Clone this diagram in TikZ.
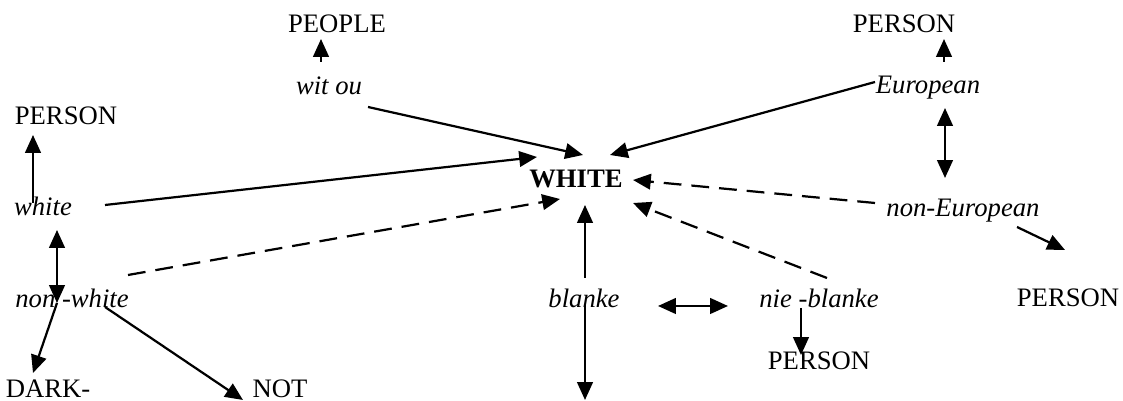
\documentclass[tikz,border=0pt]{standalone}
\usepackage{fontspec}
\setmainfont{Liberation Serif}
\usetikzlibrary{arrows.meta}
\begin{document}
\begin{tikzpicture}[x=0.45pt,y=-0.45pt,
  lbl/.style={inner sep=0pt,anchor=base,font=\fontsize{12}{14}\selectfont},
  term/.style={lbl,font=\fontsize{12}{14}\selectfont\itshape},
  conn/.style={line width=1pt,-{Triangle[length=8pt,width=7pt]}},
  bothconn/.style={line width=1pt,{Triangle[length=8pt,width=7pt]}-{Triangle[length=8pt,width=7pt]}},
  dashconn/.style={conn,dash pattern=on 8pt off 4.5pt}]
\useasboundingbox (0,0) rectangle (1123,401);
% nodes
\node[lbl] (people) at (337,33) {PEOPLE};
\node[term] (witou) at (329,95) {wit ou};
\node[lbl] (persontop) at (904,33) {PERSON};
\node[term] (european) at (928,94) {European};
\node[lbl] (personleft) at (66,125) {PERSON};
\node[term] (white) at (43,216) {white};
\node[lbl,font=\fontsize{12}{14}\selectfont\bfseries] (WHITE) at (576,188) {WHITE};
\node[term] (noneuro) at (963,217) {non-European};
\node[term] (nonwhite) at (72,308) {non -white};
\node[term] (blanke) at (584,308) {blanke};
\node[term] (nieblanke) at (819,308) {nie -blanke};
\node[lbl] (personright) at (1068,307) {PERSON};
\node[lbl] (personbottom) at (819,370) {PERSON};
\node[lbl] (dark) at (48,398) {DARK-};
\node[lbl] (not) at (280,398) {NOT};
\coordinate (blankeend) at (585,400);
% connectors
\draw[conn] ([shift={(-8,-33)}]witou.base) -- ([shift={(-16,6)}]people.base);
\draw[conn] ([shift={(39,12)}]witou.base) -- ([shift={(7,-33)}]WHITE.base);
\draw[conn] ([shift={(62,-11)}]white.base) -- ([shift={(-39,-31)}]WHITE.base);
\draw[conn] ([shift={(-53,-12)}]european.base) -- ([shift={(34,-33)}]WHITE.base);
\draw[conn] ([shift={(16,-32)}]european.base) -- ([shift={(40,6)}]persontop.base);
\draw[bothconn] ([shift={(17,14)}]european.base) -- ([shift={(-18,-39)}]noneuro.base);
\draw[conn] ([shift={(54,10)}]noneuro.base) -- ([shift={(-3,-57)}]personright.base);
\draw[dashconn] ([shift={(-88,-14)}]noneuro.base) -- ([shift={(57,-8)}]WHITE.base);
\draw[dashconn] ([shift={(8,-30)}]nieblanke.base) -- ([shift={(57,15)}]WHITE.base);
\draw[conn] ([shift={(1,-30)}]blanke.base) -- ([shift={(9,17)}]WHITE.base);
\draw[conn] ([shift={(1,-3)}]blanke.base) -- (blankeend);
\draw[bothconn] ([shift={(74,-2)}]blanke.base) -- ([shift={(-91,-2)}]nieblanke.base);
\draw[conn] ([shift={(-18,0)}]nieblanke.base) -- ([shift={(-18,-15)}]personbottom.base);
\draw[conn] ([shift={(-10,-13)}]white.base) -- ([shift={(-33,10)}]personleft.base);
\draw[bothconn] ([shift={(14,14)}]white.base) -- ([shift={(-15,-5)}]nonwhite.base);
\draw[conn] ([shift={(-15,-5)}]nonwhite.base) -- ([shift={(-15,-25)}]dark.base);
\draw[conn] ([shift={(33,-1)}]nonwhite.base) -- ([shift={(-37,2)}]not.base);
\draw[dashconn] ([shift={(56,-33)}]nonwhite.base) -- ([shift={(-16,11)}]WHITE.base);
\end{tikzpicture}
\end{document}
